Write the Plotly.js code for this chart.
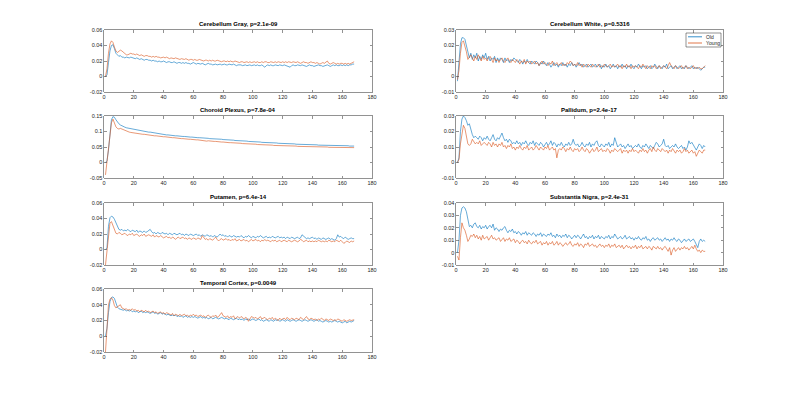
<!DOCTYPE html>
<html>
<head>
<meta charset="utf-8">
<script src="https://cdn.plot.ly/plotly-3.0.1.min.js"></script>
<style>html,body{margin:0;padding:0;background:#fff;}#chart{width:800px;height:395px;}</style>
</head>
<body>
<div id="chart"></div>
<script>
// ---- DATA ----
const frames = Array.from({length: 168}, (_, i) => i + 1);
const seriesNames = ["Old", "Young"];
const xTickVals = [0, 20, 40, 60, 80, 100, 120, 140, 160, 180];
const xTickText = ["0", "20", "40", "60", "80", "100", "120", "140", "160", "180"];

const titles = {
  cg: "Cerebellum Gray, p=2.1e-09",
  cw: "Cerebellum White, p=0.5316",
  cp: "Choroid Plexus, p=7.8e-04",
  pa: "Pallidum, p=2.4e-17",
  pu: "Putamen, p=6.4e-14",
  sn: "Substantia Nigra, p=2.4e-31",
  tc: "Temporal Cortex, p=0.0049"
};

const yTicksA = [-0.02, 0, 0.02, 0.04, 0.06];
const yTicksAText = ["-0.02", "0", "0.02", "0.04", "0.06"];
const yTicksB = [-0.01, 0, 0.01, 0.02, 0.03];
const yTicksBText = ["-0.01", "0", "0.01", "0.02", "0.03"];
const yTicksC = [-0.05, 0, 0.05, 0.1, 0.15];
const yTicksCText = ["-0.05", "0", "0.05", "0.1", "0.15"];
const yTicksD = [-0.01, 0, 0.01, 0.02, 0.03, 0.04];
const yTicksDText = ["-0.01", "0", "0.01", "0.02", "0.03", "0.04"];

const cgOld = [0.000,0.002,0.018,0.033,0.040,0.041,0.036,0.030,0.028,0.026,
0.027,0.025,0.025,0.024,0.025,0.024,0.024,0.025,0.024,0.024,
0.023,0.024,0.023,0.022,0.023,0.022,0.021,0.022,0.022,0.021,
0.021,0.020,0.021,0.020,0.020,0.019,0.020,0.019,0.019,0.020,
0.019,0.018,0.019,0.019,0.018,0.018,0.019,0.018,0.017,0.018,
0.018,0.017,0.018,0.017,0.018,0.017,0.017,0.016,0.017,0.018,
0.017,0.016,0.017,0.016,0.016,0.017,0.016,0.015,0.016,0.017,
0.016,0.016,0.015,0.016,0.016,0.015,0.016,0.016,0.015,0.016,
0.016,0.015,0.015,0.016,0.015,0.015,0.016,0.015,0.014,0.015,
0.015,0.015,0.014,0.015,0.015,0.014,0.015,0.015,0.014,0.015,
0.015,0.014,0.015,0.014,0.014,0.015,0.013,0.012,0.014,0.015,
0.014,0.015,0.014,0.014,0.015,0.014,0.014,0.015,0.014,0.014,
0.015,0.014,0.014,0.013,0.012,0.014,0.015,0.014,0.014,0.015,
0.014,0.014,0.015,0.014,0.014,0.013,0.014,0.015,0.014,0.014,
0.013,0.014,0.014,0.015,0.014,0.014,0.013,0.014,0.014,0.015,
0.014,0.013,0.014,0.015,0.014,0.015,0.014,0.014,0.015,0.014,
0.015,0.014,0.015,0.014,0.015,0.015,0.016,0.016];
const cgYoung = [0.000,0.010,0.030,0.042,0.046,0.044,0.038,0.033,0.031,0.032,
0.034,0.033,0.031,0.029,0.028,0.028,0.029,0.030,0.029,0.029,
0.028,0.029,0.028,0.027,0.028,0.027,0.026,0.027,0.027,0.026,
0.026,0.025,0.026,0.025,0.026,0.025,0.025,0.024,0.025,0.025,
0.024,0.025,0.024,0.023,0.024,0.023,0.023,0.024,0.023,0.023,
0.022,0.023,0.022,0.022,0.023,0.022,0.021,0.022,0.022,0.021,
0.022,0.021,0.021,0.022,0.021,0.021,0.020,0.021,0.021,0.020,
0.021,0.020,0.021,0.020,0.020,0.021,0.020,0.020,0.019,0.020,
0.020,0.019,0.020,0.019,0.020,0.019,0.019,0.020,0.019,0.019,
0.018,0.019,0.019,0.018,0.019,0.019,0.018,0.019,0.018,0.019,
0.019,0.018,0.019,0.018,0.018,0.019,0.018,0.019,0.019,0.018,
0.018,0.019,0.018,0.018,0.019,0.018,0.019,0.018,0.018,0.019,
0.018,0.019,0.018,0.019,0.018,0.018,0.019,0.018,0.018,0.019,
0.018,0.017,0.018,0.019,0.018,0.018,0.017,0.018,0.019,0.018,
0.018,0.017,0.018,0.017,0.016,0.017,0.018,0.017,0.018,0.020,
0.017,0.016,0.017,0.018,0.017,0.016,0.017,0.016,0.017,0.017,
0.016,0.017,0.016,0.017,0.016,0.017,0.018,0.019];

const cwOld = [-0.003,0.010,0.021,0.025,0.025,0.024,0.020,0.014,0.012,0.015,
0.011,0.014,0.012,0.015,0.010,0.013,0.011,0.014,0.012,0.015,
0.011,0.013,0.010,0.012,0.011,0.013,0.009,0.012,0.010,0.012,
0.011,0.009,0.012,0.010,0.011,0.009,0.011,0.010,0.012,0.011,
0.010,0.009,0.011,0.010,0.008,0.010,0.009,0.011,0.009,0.008,
0.010,0.009,0.008,0.010,0.009,0.007,0.009,0.008,0.010,0.008,
0.007,0.009,0.008,0.006,0.008,0.009,0.007,0.008,0.006,0.008,
0.007,0.009,0.007,0.008,0.006,0.008,0.007,0.009,0.007,0.008,
0.006,0.008,0.009,0.007,0.008,0.006,0.007,0.008,0.006,0.007,
0.008,0.006,0.007,0.008,0.006,0.007,0.008,0.005,0.007,0.006,
0.008,0.006,0.007,0.005,0.007,0.008,0.006,0.007,0.005,0.007,
0.006,0.008,0.006,0.007,0.005,0.007,0.006,0.008,0.006,0.005,
0.007,0.006,0.008,0.006,0.005,0.007,0.006,0.007,0.005,0.006,
0.007,0.005,0.006,0.008,0.006,0.005,0.007,0.006,0.005,0.007,
0.006,0.008,0.005,0.006,0.007,0.005,0.006,0.007,0.005,0.006,
0.007,0.005,0.006,0.005,0.007,0.006,0.005,0.006,0.007,0.005,
0.006,0.005,0.006,0.005,0.004,0.005,0.006,0.006];
const cwYoung = [-0.002,0.004,0.015,0.022,0.023,0.020,0.016,0.011,0.013,0.014,
0.012,0.010,0.013,0.011,0.014,0.012,0.010,0.013,0.011,0.012,
0.010,0.012,0.013,0.011,0.009,0.012,0.010,0.011,0.009,0.011,
0.012,0.010,0.009,0.011,0.012,0.010,0.009,0.011,0.010,0.009,
0.011,0.010,0.008,0.010,0.009,0.011,0.008,0.010,0.009,0.010,
0.008,0.009,0.010,0.008,0.009,0.007,0.009,0.010,0.008,0.009,
0.008,0.007,0.009,0.008,0.010,0.007,0.008,0.009,0.007,0.008,
0.009,0.007,0.008,0.007,0.009,0.008,0.010,0.009,0.007,0.008,
0.007,0.009,0.007,0.008,0.006,0.008,0.007,0.006,0.008,0.007,
0.006,0.008,0.007,0.006,0.007,0.008,0.006,0.007,0.006,0.008,
0.007,0.006,0.007,0.008,0.006,0.007,0.006,0.007,0.008,0.006,
0.007,0.005,0.007,0.006,0.008,0.006,0.007,0.005,0.007,0.006,
0.007,0.006,0.005,0.007,0.006,0.008,0.006,0.005,0.007,0.006,
0.005,0.007,0.006,0.007,0.005,0.006,0.007,0.005,0.006,0.007,
0.006,0.005,0.007,0.009,0.007,0.006,0.005,0.007,0.006,0.005,
0.006,0.007,0.005,0.006,0.007,0.005,0.006,0.005,0.006,0.007,
0.005,0.006,0.005,0.006,0.005,0.005,0.006,0.007];

const cpOld = [0.000,0.005,0.040,0.100,0.138,0.148,0.146,0.138,0.130,0.125,
0.121,0.118,0.116,0.114,0.112,0.111,0.110,0.108,0.107,0.106,
0.105,0.104,0.104,0.103,0.102,0.101,0.101,0.100,0.099,0.098,
0.098,0.097,0.096,0.096,0.095,0.094,0.093,0.092,0.091,0.090,
0.090,0.089,0.089,0.088,0.088,0.087,0.087,0.086,0.086,0.085,
0.085,0.084,0.084,0.084,0.083,0.083,0.082,0.082,0.082,0.081,
0.081,0.081,0.080,0.080,0.080,0.079,0.079,0.078,0.078,0.078,
0.077,0.077,0.077,0.076,0.076,0.076,0.075,0.075,0.075,0.074,
0.074,0.074,0.073,0.073,0.073,0.072,0.072,0.071,0.071,0.071,
0.070,0.070,0.070,0.069,0.069,0.069,0.068,0.068,0.068,0.067,
0.067,0.067,0.066,0.066,0.066,0.065,0.065,0.065,0.064,0.064,
0.064,0.064,0.063,0.063,0.063,0.063,0.062,0.062,0.062,0.062,
0.061,0.061,0.061,0.061,0.060,0.060,0.060,0.060,0.059,0.059,
0.059,0.059,0.059,0.058,0.058,0.058,0.058,0.058,0.057,0.057,
0.057,0.057,0.057,0.056,0.056,0.056,0.056,0.056,0.056,0.055,
0.055,0.055,0.055,0.055,0.055,0.055,0.054,0.054,0.054,0.054,
0.054,0.054,0.054,0.054,0.053,0.053,0.053,0.053];
const cpYoung = [-0.040,0.000,0.030,0.090,0.128,0.140,0.128,0.115,0.110,0.108,
0.110,0.108,0.104,0.102,0.100,0.099,0.098,0.097,0.096,0.095,
0.095,0.094,0.093,0.093,0.092,0.091,0.091,0.090,0.089,0.089,
0.088,0.087,0.087,0.086,0.086,0.085,0.085,0.084,0.084,0.083,
0.083,0.082,0.082,0.081,0.081,0.080,0.080,0.079,0.079,0.078,
0.078,0.077,0.077,0.076,0.076,0.076,0.075,0.075,0.074,0.074,
0.073,0.073,0.073,0.072,0.072,0.071,0.071,0.070,0.069,0.070,
0.069,0.069,0.068,0.068,0.068,0.067,0.067,0.066,0.066,0.066,
0.065,0.065,0.065,0.064,0.064,0.064,0.063,0.063,0.063,0.062,
0.062,0.062,0.061,0.061,0.061,0.060,0.060,0.060,0.059,0.059,
0.059,0.059,0.058,0.058,0.058,0.057,0.057,0.057,0.057,0.056,
0.056,0.056,0.056,0.055,0.055,0.055,0.055,0.055,0.054,0.054,
0.054,0.054,0.054,0.053,0.053,0.053,0.053,0.053,0.053,0.052,
0.052,0.052,0.052,0.052,0.052,0.051,0.051,0.051,0.051,0.051,
0.051,0.051,0.050,0.050,0.050,0.050,0.050,0.050,0.050,0.050,
0.049,0.049,0.049,0.049,0.049,0.049,0.049,0.049,0.048,0.049,
0.048,0.048,0.048,0.048,0.049,0.048,0.048,0.048];

const paOld = [0.000,0.003,0.020,0.028,0.030,0.029,0.027,0.024,0.025,0.021,
0.018,0.016,0.017,0.016,0.015,0.017,0.016,0.014,0.016,0.015,
0.017,0.015,0.014,0.016,0.018,0.015,0.014,0.016,0.015,0.017,
0.019,0.016,0.014,0.015,0.013,0.015,0.014,0.012,0.013,0.012,
0.014,0.012,0.013,0.011,0.013,0.012,0.014,0.012,0.011,0.013,
0.012,0.014,0.011,0.013,0.012,0.011,0.013,0.012,0.010,0.012,
0.013,0.011,0.012,0.014,0.011,0.013,0.012,0.010,0.012,0.011,
0.013,0.011,0.010,0.012,0.011,0.013,0.011,0.012,0.015,0.012,
0.011,0.012,0.010,0.011,0.013,0.011,0.010,0.012,0.011,0.013,
0.010,0.012,0.011,0.013,0.014,0.011,0.010,0.012,0.011,0.010,
0.012,0.011,0.013,0.010,0.012,0.011,0.016,0.012,0.010,0.011,
0.012,0.010,0.011,0.009,0.011,0.012,0.010,0.011,0.009,0.010,
0.011,0.010,0.012,0.010,0.009,0.011,0.010,0.012,0.010,0.009,
0.011,0.010,0.009,0.011,0.013,0.012,0.010,0.011,0.012,0.015,
0.011,0.010,0.011,0.009,0.010,0.011,0.010,0.012,0.010,0.009,
0.010,0.011,0.009,0.010,0.008,0.010,0.014,0.012,0.013,0.011,
0.009,0.008,0.010,0.012,0.011,0.009,0.011,0.010];
const paYoung = [0.000,0.002,0.012,0.020,0.024,0.022,0.016,0.012,0.011,0.012,
0.015,0.013,0.012,0.013,0.012,0.014,0.011,0.012,0.013,0.012,
0.011,0.013,0.012,0.010,0.013,0.011,0.012,0.010,0.012,0.011,
0.013,0.010,0.011,0.009,0.011,0.010,0.012,0.009,0.010,0.008,
0.010,0.009,0.011,0.009,0.008,0.010,0.009,0.011,0.008,0.009,
0.010,0.008,0.009,0.011,0.009,0.008,0.010,0.009,0.008,0.010,
0.009,0.011,0.008,0.009,0.010,0.008,0.009,0.003,0.008,0.009,
0.008,0.010,0.009,0.007,0.009,0.008,0.010,0.008,0.007,0.009,
0.008,0.009,0.007,0.008,0.010,0.008,0.007,0.009,0.008,0.006,
0.008,0.009,0.007,0.008,0.010,0.007,0.008,0.009,0.007,0.008,
0.007,0.009,0.008,0.006,0.008,0.007,0.009,0.008,0.007,0.008,
0.009,0.006,0.008,0.007,0.008,0.006,0.008,0.007,0.009,0.007,
0.008,0.007,0.006,0.008,0.007,0.009,0.007,0.008,0.006,0.008,
0.009,0.007,0.010,0.008,0.007,0.009,0.008,0.007,0.009,0.008,
0.007,0.008,0.006,0.008,0.007,0.009,0.007,0.006,0.008,0.007,
0.008,0.006,0.007,0.009,0.007,0.008,0.006,0.007,0.008,0.006,
0.007,0.004,0.006,0.008,0.007,0.006,0.008,0.008];

const puOld = [0.000,0.002,0.030,0.041,0.043,0.042,0.039,0.034,0.029,0.026,
0.025,0.026,0.024,0.025,0.024,0.026,0.024,0.023,0.025,0.024,
0.023,0.025,0.022,0.024,0.023,0.022,0.024,0.022,0.023,0.025,
0.026,0.023,0.021,0.022,0.020,0.022,0.021,0.020,0.022,0.021,
0.020,0.021,0.019,0.021,0.020,0.019,0.021,0.020,0.019,0.020,
0.021,0.019,0.020,0.018,0.020,0.019,0.018,0.020,0.019,0.018,
0.019,0.020,0.018,0.019,0.017,0.019,0.018,0.017,0.019,0.018,
0.017,0.018,0.016,0.018,0.017,0.016,0.018,0.020,0.018,0.019,
0.017,0.018,0.016,0.018,0.017,0.016,0.018,0.017,0.016,0.017,
0.016,0.018,0.017,0.015,0.017,0.016,0.018,0.016,0.015,0.017,
0.016,0.015,0.017,0.016,0.018,0.016,0.015,0.016,0.017,0.015,
0.016,0.015,0.017,0.016,0.015,0.016,0.017,0.015,0.016,0.015,
0.016,0.014,0.016,0.015,0.014,0.016,0.015,0.014,0.015,0.016,
0.014,0.015,0.019,0.017,0.015,0.014,0.015,0.014,0.015,0.016,
0.014,0.015,0.013,0.015,0.014,0.013,0.015,0.014,0.013,0.014,
0.015,0.013,0.014,0.013,0.012,0.014,0.019,0.016,0.017,0.015,
0.014,0.016,0.015,0.013,0.014,0.015,0.014,0.014];
const puYoung = [-0.020,0.000,0.024,0.034,0.036,0.031,0.025,0.021,0.020,0.022,
0.021,0.019,0.020,0.021,0.019,0.018,0.020,0.019,0.021,0.018,
0.019,0.020,0.018,0.017,0.019,0.018,0.020,0.017,0.018,0.019,
0.018,0.017,0.019,0.016,0.018,0.017,0.016,0.018,0.017,0.015,
0.016,0.017,0.015,0.016,0.014,0.016,0.015,0.013,0.015,0.016,
0.014,0.015,0.016,0.014,0.015,0.013,0.015,0.014,0.013,0.015,
0.014,0.013,0.015,0.014,0.013,0.018,0.015,0.013,0.014,0.012,
0.014,0.013,0.012,0.014,0.016,0.013,0.011,0.013,0.014,0.012,
0.013,0.014,0.012,0.013,0.011,0.013,0.012,0.014,0.011,0.012,
0.013,0.011,0.012,0.013,0.011,0.012,0.010,0.012,0.013,0.011,
0.012,0.013,0.011,0.012,0.010,0.012,0.011,0.013,0.011,0.012,
0.011,0.010,0.012,0.011,0.012,0.010,0.011,0.012,0.010,0.011,
0.012,0.011,0.010,0.012,0.011,0.010,0.011,0.012,0.011,0.010,
0.011,0.013,0.012,0.010,0.011,0.012,0.010,0.011,0.010,0.011,
0.010,0.011,0.010,0.012,0.011,0.010,0.011,0.010,0.011,0.010,
0.012,0.011,0.010,0.011,0.010,0.012,0.011,0.010,0.012,0.010,
0.008,0.009,0.011,0.010,0.009,0.011,0.010,0.011];

const snOld = [0.000,0.010,0.030,0.036,0.037,0.036,0.033,0.025,0.021,0.022,
0.020,0.023,0.024,0.021,0.020,0.022,0.019,0.021,0.020,0.022,
0.019,0.021,0.022,0.020,0.023,0.018,0.020,0.019,0.017,0.019,
0.018,0.020,0.021,0.018,0.016,0.018,0.017,0.019,0.016,0.017,
0.015,0.017,0.016,0.014,0.016,0.015,0.017,0.014,0.016,0.015,
0.014,0.016,0.015,0.013,0.015,0.014,0.016,0.013,0.015,0.014,
0.013,0.015,0.014,0.016,0.013,0.014,0.012,0.015,0.013,0.014,
0.012,0.014,0.013,0.015,0.012,0.014,0.013,0.011,0.013,0.014,
0.012,0.014,0.013,0.011,0.013,0.015,0.012,0.013,0.011,0.013,
0.012,0.014,0.011,0.013,0.012,0.014,0.011,0.013,0.012,0.011,
0.013,0.012,0.014,0.011,0.013,0.012,0.015,0.013,0.011,0.012,
0.013,0.011,0.012,0.014,0.011,0.012,0.013,0.011,0.012,0.010,
0.012,0.011,0.013,0.011,0.010,0.012,0.011,0.013,0.010,0.011,
0.009,0.011,0.012,0.010,0.011,0.012,0.010,0.011,0.009,0.011,
0.012,0.010,0.011,0.009,0.011,0.010,0.012,0.010,0.009,0.011,
0.010,0.008,0.010,0.011,0.009,0.010,0.011,0.009,0.010,0.011,
0.009,0.007,0.004,0.009,0.011,0.009,0.010,0.009];
const snYoung = [-0.003,-0.006,0.012,0.024,0.020,0.018,0.014,0.009,0.011,0.014,
0.013,0.015,0.012,0.014,0.011,0.013,0.010,0.014,0.011,0.012,
0.013,0.010,0.012,0.014,0.011,0.012,0.010,0.011,0.012,0.009,
0.011,0.012,0.009,0.011,0.010,0.012,0.009,0.010,0.011,0.008,
0.010,0.009,0.007,0.009,0.010,0.008,0.009,0.007,0.010,0.008,
0.007,0.009,0.008,0.010,0.007,0.008,0.009,0.006,0.008,0.007,
0.009,0.006,0.008,0.007,0.009,0.006,0.007,0.009,0.006,0.008,
0.007,0.005,0.007,0.008,0.006,0.007,0.009,0.006,0.005,0.007,
0.006,0.008,0.005,0.007,0.006,0.004,0.007,0.006,0.008,0.005,
0.006,0.007,0.005,0.006,0.004,0.006,0.007,0.005,0.006,0.004,
0.006,0.005,0.007,0.004,0.006,0.005,0.007,0.004,0.005,0.006,
0.004,0.006,0.003,0.005,0.006,0.004,0.005,0.003,0.005,0.004,
0.006,0.003,0.005,0.004,0.006,0.003,0.004,0.005,0.003,0.005,
0.004,0.002,0.005,0.004,0.003,0.005,0.003,0.004,0.002,0.004,
0.005,0.003,0.001,0.004,-0.002,0.002,0.004,0.001,0.003,0.004,
0.002,0.004,0.003,0.005,0.003,0.004,0.002,0.004,0.005,0.003,
0.006,0.003,0.001,0.002,0.000,0.002,0.001,0.001];

const tcOld = [0.000,0.010,0.030,0.044,0.049,0.050,0.048,0.041,0.037,0.035,
0.034,0.034,0.033,0.034,0.032,0.033,0.032,0.033,0.031,0.032,
0.031,0.032,0.030,0.031,0.032,0.030,0.031,0.030,0.031,0.030,
0.029,0.030,0.031,0.029,0.030,0.028,0.029,0.030,0.028,0.029,
0.028,0.027,0.028,0.027,0.026,0.027,0.026,0.027,0.025,0.026,
0.025,0.026,0.024,0.025,0.026,0.024,0.025,0.024,0.025,0.024,
0.025,0.024,0.023,0.024,0.025,0.023,0.024,0.023,0.024,0.022,
0.023,0.024,0.022,0.023,0.024,0.023,0.022,0.023,0.024,0.023,
0.022,0.023,0.022,0.021,0.023,0.022,0.021,0.022,0.023,0.021,
0.022,0.021,0.022,0.020,0.022,0.021,0.022,0.020,0.021,0.022,
0.021,0.020,0.021,0.022,0.020,0.021,0.019,0.020,0.021,0.020,
0.019,0.021,0.020,0.019,0.021,0.020,0.021,0.019,0.020,0.021,
0.020,0.019,0.021,0.020,0.019,0.020,0.021,0.020,0.019,0.020,
0.021,0.020,0.019,0.020,0.021,0.020,0.019,0.020,0.021,0.020,
0.019,0.020,0.021,0.019,0.020,0.019,0.018,0.019,0.020,0.019,
0.018,0.019,0.018,0.019,0.020,0.019,0.018,0.019,0.018,0.017,
0.018,0.019,0.017,0.018,0.019,0.018,0.019,0.020];
const tcYoung = [-0.020,0.015,0.040,0.047,0.049,0.046,0.039,0.036,0.037,0.039,
0.040,0.036,0.035,0.034,0.035,0.033,0.034,0.033,0.035,0.033,
0.034,0.032,0.033,0.031,0.033,0.032,0.031,0.033,0.031,0.032,
0.030,0.031,0.032,0.030,0.031,0.029,0.030,0.031,0.029,0.030,
0.028,0.030,0.029,0.028,0.027,0.029,0.026,0.028,0.027,0.026,
0.028,0.026,0.027,0.028,0.026,0.027,0.025,0.027,0.026,0.028,
0.026,0.027,0.025,0.026,0.027,0.025,0.026,0.024,0.026,0.027,
0.025,0.024,0.026,0.025,0.027,0.024,0.025,0.027,0.030,0.026,
0.025,0.024,0.026,0.023,0.025,0.024,0.026,0.022,0.024,0.025,
0.023,0.025,0.024,0.022,0.024,0.023,0.019,0.023,0.025,0.024,
0.023,0.024,0.022,0.023,0.025,0.022,0.023,0.024,0.022,0.021,
0.023,0.022,0.024,0.021,0.023,0.022,0.020,0.023,0.021,0.022,
0.023,0.021,0.024,0.022,0.021,0.023,0.022,0.021,0.023,0.022,
0.021,0.024,0.022,0.021,0.023,0.025,0.022,0.021,0.023,0.022,
0.021,0.022,0.020,0.022,0.021,0.023,0.021,0.020,0.022,0.021,
0.020,0.022,0.021,0.020,0.021,0.020,0.022,0.021,0.020,0.019,
0.021,0.020,0.019,0.020,0.021,0.020,0.021,0.021];

// ---- LAYOUT / DRAWING ----
const W = 800, H = 395;
const colX = [[104 / W, 372 / W], [456 / W, 723 / W]];
const rowY = [[1 - 92 / H, 1 - 30 / H], [1 - 178 / H, 1 - 116 / H], [1 - 265 / H, 1 - 203 / H], [1 - 352 / H, 1 - 289 / H]];

const panels = [
  {title: titles.cg, old: cgOld, young: cgYoung, col: 0, row: 0, yr: [-0.02, 0.06], tv: yTicksA, tt: yTicksAText},
  {title: titles.cp, old: cpOld, young: cpYoung, col: 0, row: 1, yr: [-0.05, 0.15], tv: yTicksC, tt: yTicksCText},
  {title: titles.pu, old: puOld, young: puYoung, col: 0, row: 2, yr: [-0.02, 0.06], tv: yTicksA, tt: yTicksAText},
  {title: titles.tc, old: tcOld, young: tcYoung, col: 0, row: 3, yr: [-0.02, 0.06], tv: yTicksA, tt: yTicksAText},
  {title: titles.cw, old: cwOld, young: cwYoung, col: 1, row: 0, yr: [-0.01, 0.03], tv: yTicksB, tt: yTicksBText},
  {title: titles.pa, old: paOld, young: paYoung, col: 1, row: 1, yr: [-0.01, 0.03], tv: yTicksB, tt: yTicksBText},
  {title: titles.sn, old: snOld, young: snYoung, col: 1, row: 2, yr: [-0.01, 0.04], tv: yTicksD, tt: yTicksDText}
];

const colors = ["#0072BD", "#D95319"];
const axisColor = "#262626";
const fontFam = "Liberation Sans, Arial, sans-serif";
const tickFont = {family: fontFam, size: 5.5, color: axisColor};

const traces = [];
const layout = {
  width: W, height: H,
  margin: {l: 0, r: 0, t: 0, b: 0},
  paper_bgcolor: "#ffffff",
  plot_bgcolor: "#ffffff",
  showlegend: false,
  annotations: [],
  shapes: []
};

panels.forEach((p, i) => {
  const n = i + 1;
  const xa = n === 1 ? "x" : "x" + n;
  const ya = n === 1 ? "y" : "y" + n;
  [p.old, p.young].forEach((vals, k) => {
    traces.push({
      type: "scatter", mode: "lines",
      x: frames, y: vals,
      xaxis: xa, yaxis: ya,
      name: seriesNames[k],
      line: {color: colors[k], width: 0.6},
      hoverinfo: "skip"
    });
  });
  const common = {
    showline: true, mirror: "ticks", linecolor: axisColor, linewidth: 0.5,
    ticks: "inside", ticklen: 2.5, tickwidth: 0.5, tickcolor: axisColor,
    showgrid: false, zeroline: false, tickfont: tickFont, fixedrange: true
  };
  layout["xaxis" + (n === 1 ? "" : n)] = Object.assign({}, common, {
    domain: colX[p.col], anchor: ya, range: [0, 180],
    tickmode: "array", tickvals: xTickVals, ticktext: xTickText
  });
  layout["yaxis" + (n === 1 ? "" : n)] = Object.assign({}, common, {
    domain: rowY[p.row], anchor: xa, range: p.yr,
    tickmode: "array", tickvals: p.tv, ticktext: p.tt
  });
  layout.annotations.push({
    xref: "paper", yref: "paper",
    x: (colX[p.col][0] + colX[p.col][1]) / 2, y: rowY[p.row][1],
    xanchor: "center", yanchor: "bottom", yshift: 1,
    text: "<b>" + p.title + "</b>", showarrow: false,
    font: {family: fontFam, size: 6, color: "#000000"}
  });
});

// Compact MATLAB-style legend inside the Cerebellum White panel (top right)
const lg = {x0: 686 / W, x1: 721 / W, y0: 1 - 47 / H, y1: 1 - 33 / H};
layout.shapes.push({type: "rect", xref: "paper", yref: "paper", x0: lg.x0, x1: lg.x1, y0: lg.y0, y1: lg.y1,
  line: {color: axisColor, width: 0.5}, fillcolor: "#ffffff", layer: "above"});
seriesNames.forEach((nm, k) => {
  const yy = 1 - (36.8 + k * 6.2) / H;
  layout.shapes.push({type: "line", xref: "paper", yref: "paper", x0: 688 / W, x1: 702 / W, y0: yy, y1: yy,
    line: {color: colors[k], width: 0.8}, layer: "above"});
  layout.annotations.push({xref: "paper", yref: "paper", x: 704 / W, y: yy, xanchor: "left", yanchor: "middle",
    text: nm, showarrow: false, font: {family: fontFam, size: 5, color: axisColor}});
});

Plotly.newPlot("chart", traces, layout, {displayModeBar: false, staticPlot: true});
</script>
</body>
</html>
